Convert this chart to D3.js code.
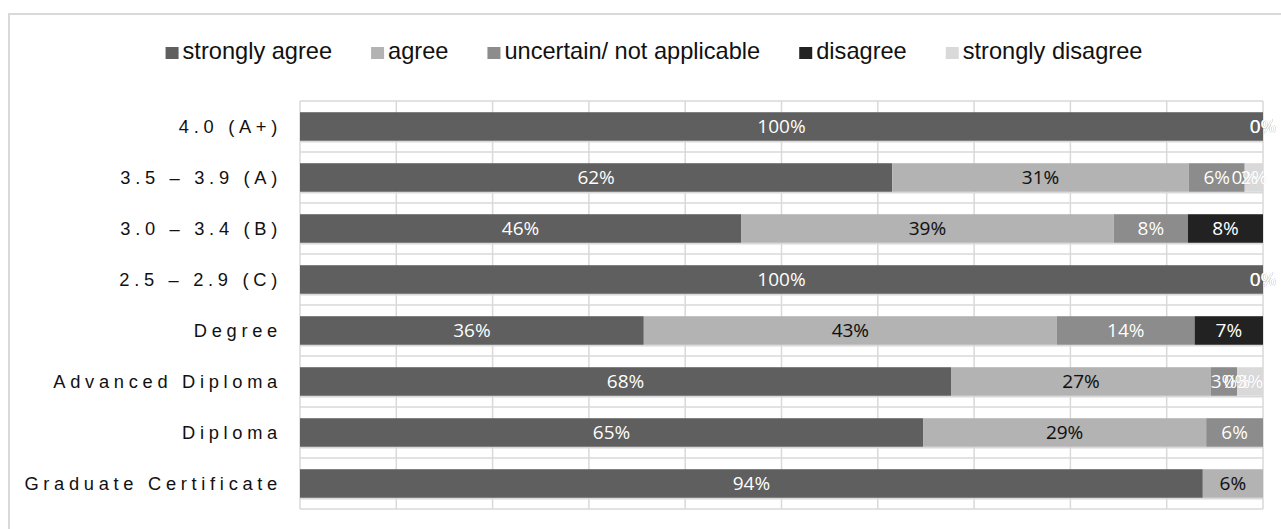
<!DOCTYPE html>
<html>
<head>
<meta charset="utf-8">
<script src="https://cdn.jsdelivr.net/npm/d3@7"></script>
<style>
  body { margin:0; background:#fff; }
  svg text { font-family: "Liberation Sans", Arial, sans-serif; }
</style>
</head>
<body>
<div id="chart"></div>
<script>
// categories top to bottom
const CATEGORIES = ["4.0 (A+)","3.5 – 3.9 (A)","3.0 – 3.4 (B)","2.5 – 2.9 (C)","Degree","Advanced Diploma","Diploma","Graduate Certificate"];
const SERIES = ["strongly agree","agree","uncertain/ not applicable","disagree","strongly disagree"];
// shares per category (null = no value / no label)
const STRONGLY_AGREE    = [1, 0.615, 0.458, 1, 0.357, 0.676, 0.647, 0.9375];
const AGREE             = [0, 0.308, 0.387, 0, 0.429, 0.270, 0.294, 0.0625];
const UNCERTAIN         = [0, 0.058, 0.077, 0, 0.143, 0.027, 0.059, null];
const DISAGREE          = [0, 0,     0.078, 0, 0.071, 0,     null,  null];
const STRONGLY_DISAGREE = [0, 0.019, null,  0, null,  0.027, null,  null];
const X_TICKS = [0,0.1,0.2,0.3,0.4,0.5,0.6,0.7,0.8,0.9,1];

(function() {
    const values = [STRONGLY_AGREE, AGREE, UNCERTAIN, DISAGREE, STRONGLY_DISAGREE];
    const colors = {"strongly agree":"#5f5f5f","agree":"#b3b3b3","uncertain/ not applicable":"#8c8c8c","disagree":"#222222","strongly disagree":"#d9d9d9"};
    const labelColor = {"strongly agree":"#fff","agree":"#111","uncertain/ not applicable":"#fff","disagree":"#fff","strongly disagree":"#fff"};

    const totalW=1281, totalH=529;
    const plot = { left:300, right:1263, top:101, bottom:509 };

    const rows = CATEGORIES.map((c,i) => {
        const r = { cat:c };
        SERIES.forEach((s,j) => { r[s] = values[j][i]; });
        return r;
    });
    const series = d3.stack().keys(SERIES).value((d,k)=> d[k]==null ? 0 : d[k])(rows);

    const x = d3.scaleLinear().domain([0,1]).range([plot.left, plot.right]);
    const y = d3.scaleBand().domain(CATEGORIES).range([plot.top, plot.bottom]).paddingInner(0.44).paddingOuter(0.22);

    const svg = d3.select("#chart").append("svg").attr("width",totalW).attr("height",totalH);

    // outer chart border
    svg.append("rect").attr("x",9).attr("y",14).attr("width",1300).attr("height",600)
        .attr("fill","none").attr("stroke","#d9d9d9").attr("stroke-width",2);

    // gridlines
    const grid = svg.append("g").attr("stroke","#d9d9d9").attr("stroke-width",1.5);
    grid.selectAll(".vx").data(X_TICKS).enter().append("line")
        .attr("x1",d=>x(d)).attr("x2",d=>x(d)).attr("y1",plot.top).attr("y2",plot.bottom);
    const step = y.step();
    const hLines = [];
    CATEGORIES.forEach((c,i) => {
        hLines.push(plot.top + i*step);
        hLines.push(y(c) + y.bandwidth() + 1);
    });
    hLines.push(plot.bottom);
    grid.selectAll(".hy").data(hLines).enter().append("line")
        .attr("x1",plot.left).attr("x2",plot.right).attr("y1",d=>d).attr("y2",d=>d);

    // bars
    svg.selectAll(".series").data(series).enter().append("g").attr("fill",d=>colors[d.key])
        .selectAll("rect").data(d=>d).enter().append("rect")
            .attr("x",d=>x(d[0])).attr("width",d=>Math.max(0,x(d[1])-x(d[0])))
            .attr("y",d=>y(d.data.cat)).attr("height",y.bandwidth());

    // data labels
    series.forEach(s => {
        svg.append("g").selectAll("text").data(s.filter(d=>d.data[s.key]!=null)).enter().append("text")
            .attr("x",d=>(x(d[0])+x(d[1]))/2)
            .attr("y",d=>y(d.data.cat)+y.bandwidth()/2)
            .attr("dy","0.36em").attr("text-anchor","middle")
            .attr("fill",labelColor[s.key])
            .attr("stroke","rgba(0,0,0,0.12)").attr("stroke-width",0.6).attr("paint-order","stroke")
            .style("font-family","'Open Sans', sans-serif").style("font-size","19px")
            .text(d=>d3.format(".0%")(d.data[s.key]));
    });

    // category labels
    svg.append("g").selectAll("text").data(CATEGORIES).enter().append("text")
        .attr("x",282).attr("y",d=>y(d)+y.bandwidth()/2).attr("dy","0.35em")
        .attr("text-anchor","end").attr("fill","#111")
        .style("font-size","18.3px").style("letter-spacing","4.7px")
        .text(d=>d);

    // legend
    const legend = svg.append("g");
    let lx = 0;
    const sw = 13, gapText = 4, gapItem = 39;
    SERIES.forEach(s => {
        legend.append("rect").attr("x",lx).attr("y",47).attr("width",sw).attr("height",12).attr("fill",colors[s]);
        const t = legend.append("text").attr("x",lx+sw+gapText).attr("y",59)
            .attr("fill","#111").style("font-size","23.6px").text(s);
        lx += sw + gapText + t.node().getComputedTextLength() + gapItem;
    });
    lx -= gapItem;
    legend.attr("transform",`translate(${654 - lx/2},0)`);
})();
</script>
</body>
</html>
